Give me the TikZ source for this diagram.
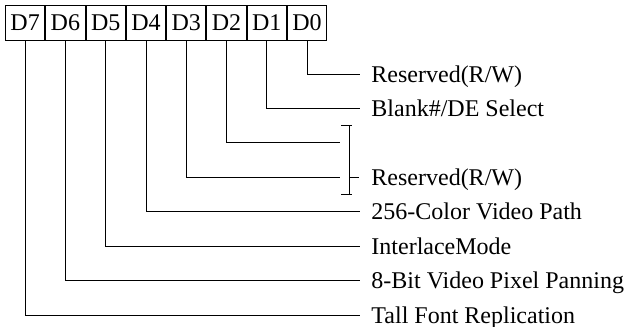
\documentclass[tikz,border=0pt]{standalone}
\usepackage{fontspec}
\setmainfont{Liberation Serif}
\usetikzlibrary{positioning}

\begin{document}
\begin{tikzpicture}[
  x=1pt, y=-1pt, line width=0.9pt, node distance=0pt,
  font=\fontsize{24}{28}\selectfont,
  bitcell/.style={draw, inner sep=0pt, minimum width=39.375pt, minimum height=35pt, text height=16pt, text depth=0pt},
  lbl/.style={anchor=west, inner sep=0pt, text height=16pt, text depth=0pt}
]
  \useasboundingbox (0,0) rectangle (630,327);
  \node[bitcell, anchor=north west] (d7) at (5,5) {D7};
  \node[bitcell, right=of d7] (d6) {D6};
  \node[bitcell, right=of d6] (d5) {D5};
  \node[bitcell, right=of d5] (d4) {D4};
  \node[bitcell, right=of d4] (d3) {D3};
  \node[bitcell, right=of d3] (d2) {D2};
  \node[bitcell, right=of d2] (d1) {D1};
  \node[bitcell, right=of d1] (d0) {D0};
  \coordinate (e0) at (360,74.5);
  \coordinate (e1) at (360,108.5);
  \coordinate (e2) at (340,142.5);
  \coordinate (e3) at (340,177);
  \coordinate (e4) at (360,211.5);
  \coordinate (e5) at (360,246);
  \coordinate (e6) at (360,280.5);
  \coordinate (e7) at (360,315);
  \coordinate (btop) at (349,125);
  \coordinate (bbot) at (349,194);
  \coordinate (bmid) at (359,177);
  \draw (d0.south) |- (e0);
  \draw (d1.south) |- (e1);
  \draw (d2.south) |- (e2);
  \draw (d3.south) |- (e3);
  \draw (d4.south) |- (e4);
  \draw (d5.south) |- (e5);
  \draw (d6.south) |- (e6);
  \draw (d7.south) |- (e7);
  \draw (btop) -- (bbot);
  \draw ([xshift=-8pt]btop) -- ([xshift=3pt]btop);
  \draw ([xshift=-8pt]bbot) -- ([xshift=3pt]bbot);
  \draw (bmid -| btop) -- (bmid);
  \node[right=11pt of e0, lbl] (l0) {Reserved(R/W)};
  \node[right=11pt of e1, lbl] (l1) {Blank\#/DE Select};
  \node[right=12pt of bmid, lbl] (l23) {Reserved(R/W)};
  \node[right=11pt of e4, lbl] (l4) {256-Color Video Path};
  \node[right=11pt of e5, lbl] (l5) {InterlaceMode};
  \node[right=11pt of e6, lbl] (l6) {8-Bit Video Pixel Panning};
  \node[right=11pt of e7, lbl] (l7) {Tall Font Replication};
\end{tikzpicture}
\end{document}
